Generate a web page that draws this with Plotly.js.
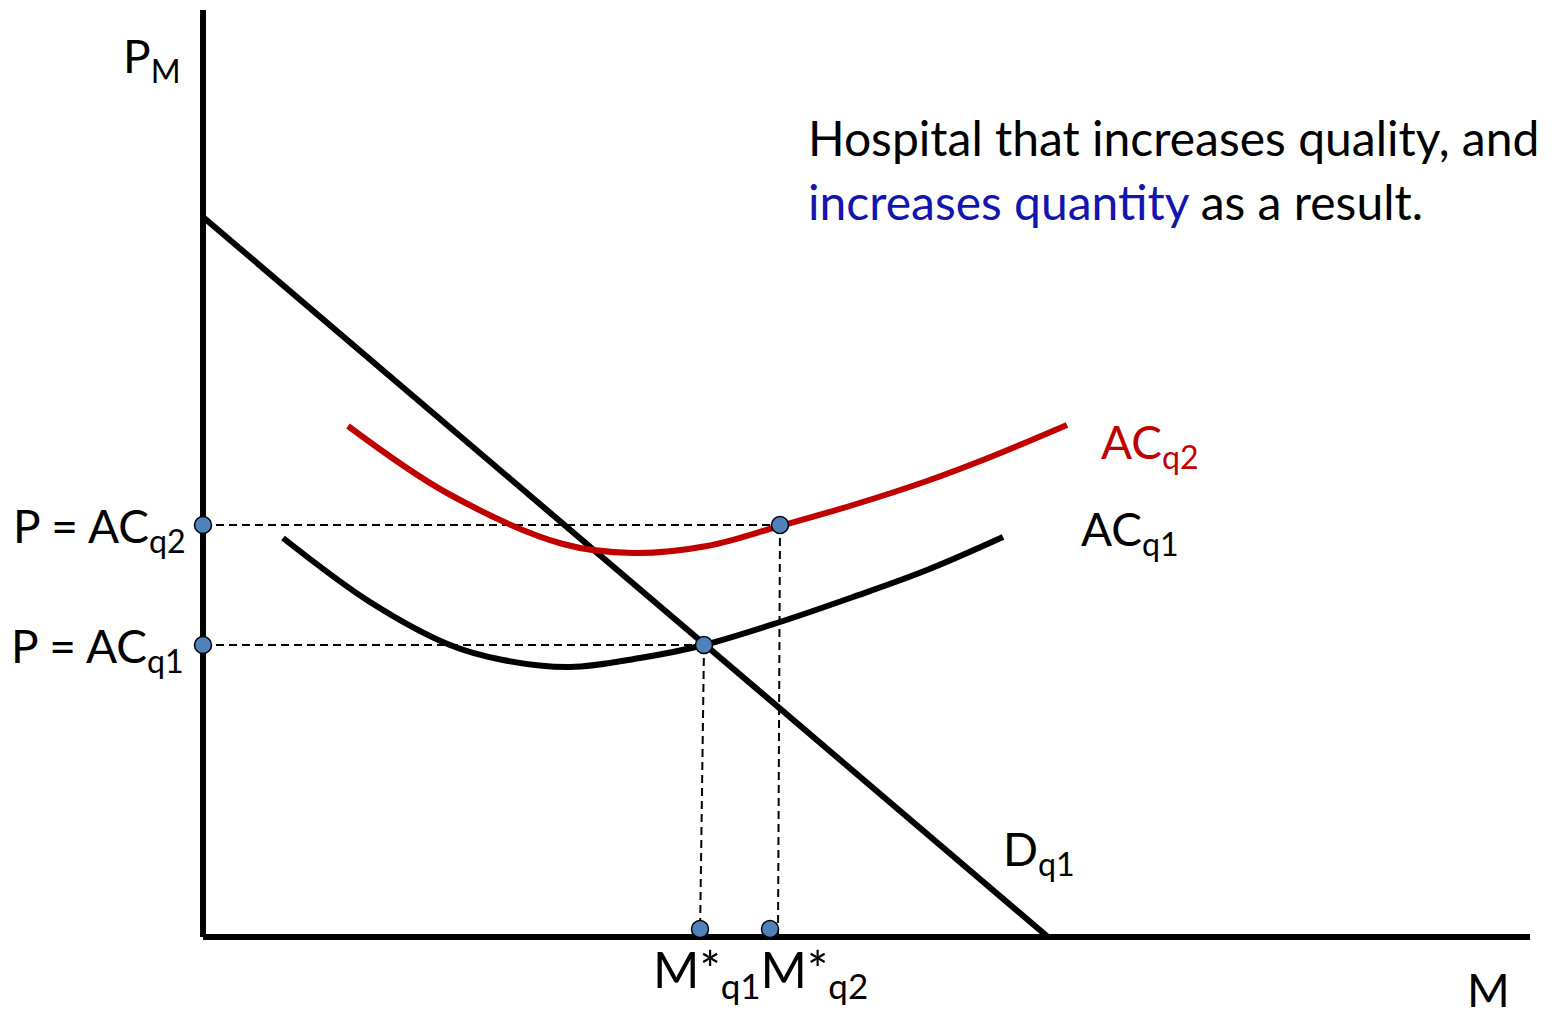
<!DOCTYPE html>
<html>
<head>
<meta charset="utf-8">
<script src="https://cdn.plot.ly/plotly-3.0.1.min.js"></script>
<style>html,body{margin:0;padding:0;background:#fff;}#chart{width:1566px;height:1017px;}</style>
</head>
<body>
<div id="chart"></div>
<script>
// Demand curve D_q1
const demandX = [0, 845];
const demandY = [720, 0];
// Average cost at quality 1
const acq1X = [80, 167, 247, 300, 367, 437, 501, 577, 650, 724, 800];
const acq1Y = [399, 335, 292, 277, 270, 279, 292, 315, 340, 367, 400];
// Average cost at quality 2
const acq2X = [145, 244, 360, 430, 504, 577, 650, 724, 790, 864];
const acq2Y = [511, 444, 393, 384, 391, 411, 432, 456, 481, 512];
// Equilibria
const priceLevels = [412, 292];        // P = AC_q2, P = AC_q1
const eqQuantX = [577, 501];           // on AC_q2, on AC_q1/D
const axisQuantX = [567, 497];         // M*_q2, M*_q1 on the M axis
const guideEndX = [575, 497];
const axisMax = {x: 1327, y: 927};

const FONT = 'Lato, "Open Sans", sans-serif';
const BLUE = '#4F81BD';
const RED = '#C00000';

const traces = [];
// dashed guides
for (let i = 0; i < 2; i++) {
  traces.push({x:[0, eqQuantX[i]], y:[priceLevels[i], priceLevels[i]], mode:'lines',
    line:{color:'#000', width:2, dash:'8px,5px'}, hoverinfo:'skip'});
  traces.push({x:[eqQuantX[i], guideEndX[i]], y:[priceLevels[i], 0], mode:'lines',
    line:{color:'#000', width:2, dash:'8px,5px'}, hoverinfo:'skip'});
}
// axes
traces.push({x:[0,0], y:[0,axisMax.y], mode:'lines', line:{color:'#000', width:6}, hoverinfo:'skip'});
traces.push({x:[0,axisMax.x], y:[0,0], mode:'lines', line:{color:'#000', width:6}, hoverinfo:'skip'});
// demand
traces.push({x:demandX, y:demandY, mode:'lines', line:{color:'#000', width:6}, hoverinfo:'skip'});
// AC curves
traces.push({x:acq1X, y:acq1Y, mode:'lines', line:{color:'#000', width:6, shape:'spline', smoothing:1}, hoverinfo:'skip'});
traces.push({x:acq2X, y:acq2Y, mode:'lines', line:{color:RED, width:6, shape:'spline', smoothing:1}, hoverinfo:'skip'});
// dots
traces.push({
  x:[0, 0].concat(eqQuantX).concat(axisQuantX),
  y:priceLevels.concat(priceLevels).concat([8, 8]),
  mode:'markers', marker:{size:17, color:BLUE, line:{color:'#000', width:1.5}}, hoverinfo:'skip'});

const ann = (x, y, text, opts) => Object.assign({x, y, xref:'x', yref:'y', text, showarrow:false,
  font:{family:FONT, size:46, color:'#000'}, xanchor:'left', yanchor:'middle'}, opts||{});

const annotations = [
  ann(-82, 878, 'P<sub>M</sub>'),
  ann(-192, 408, 'P = AC<sub>q2</sub>'),
  ann(-194, 288, 'P = AC<sub>q1</sub>'),
  ann(896, 492, 'AC<sub>q2</sub>', {font:{family:FONT, size:46, color:RED}}),
  ann(876, 405, 'AC<sub>q1</sub>'),
  ann(798, 85, 'D<sub>q1</sub>'),
  ann(448, -35, 'M*<sub>q1</sub>M*<sub>q2</sub>', {font:{family:FONT, size:50, color:'#000'}}),
  ann(1262, -52, 'M'),
  ann(603, 800, 'Hospital that increases quality, and', {font:{family:FONT, size:48, color:'#000'}}),
  ann(603, 736, '<span style="color:#1414AF">increases quantity</span> as a result.', {font:{family:FONT, size:48, color:'#000'}})
];

const layout = {
  width:1566, height:1017,
  margin:{l:0, r:0, t:0, b:0},
  paper_bgcolor:'#fff', plot_bgcolor:'#fff',
  showlegend:false,
  xaxis:{range:[-203, 1363], visible:false, fixedrange:true},
  yaxis:{range:[-80, 937], visible:false, fixedrange:true},
  annotations
};
Plotly.newPlot('chart', traces, layout, {staticPlot:true, displayModeBar:false});
</script>
</body>
</html>
